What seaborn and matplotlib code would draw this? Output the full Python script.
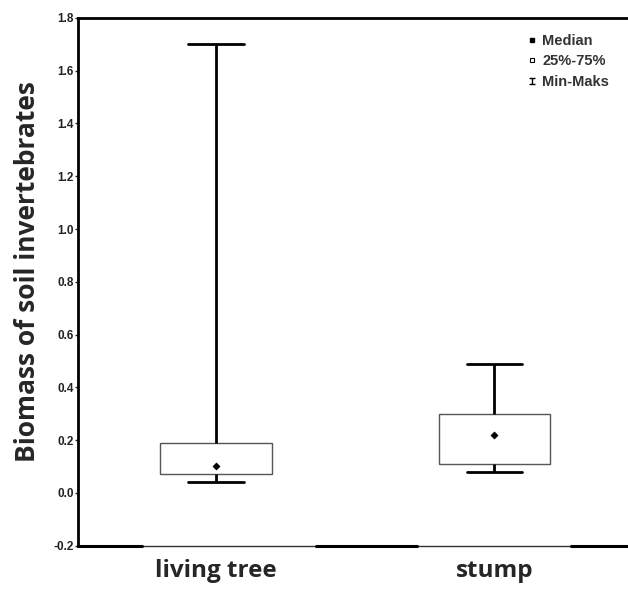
import numpy as np
import pandas as pd
import matplotlib
matplotlib.use("Agg")
import matplotlib.pyplot as plt
from matplotlib.lines import Line2D
from matplotlib.path import Path
import seaborn as sns

# Summary statistics per site type
categories = ["living tree", "stump"]
minimum = [0.04, 0.08]
q1 = [0.07, 0.11]
median = [0.10, 0.22]
q3 = [0.19, 0.30]
maximum = [1.70, 0.49]

# Five values per group reproduce the five-number summary exactly
rows = []
for cat, lo, a, m, b, hi in zip(categories, minimum, q1, median, q3, maximum):
    for v in (lo, a, m, b, hi):
        rows.append({"site": cat, "biomass": v})
df = pd.DataFrame(rows)
med_df = pd.DataFrame({"site": categories, "biomass": median})

sns.set_style("white")
plt.rcParams["font.family"] = ["Liberation Sans", "DejaVu Sans"]

fig = plt.figure(figsize=(6.28, 5.90), dpi=100)
ax = fig.add_axes([0.1242, 0.0754, 0.8758, 0.8941])

sns.boxplot(
    data=df, x="site", y="biomass", order=categories, ax=ax,
    whis=(0, 100), width=0.40, showfliers=False,
    boxprops=dict(facecolor="white", edgecolor="#555555", linewidth=1.0),
    whiskerprops=dict(color="black", linewidth=2.0),
    capprops=dict(color="black", linewidth=2.0),
    medianprops=dict(visible=False),
)
sns.scatterplot(data=med_df, x="site", y="biomass", ax=ax, marker="D",
                color="black", s=14, edgecolor="black", zorder=5, legend=False)

ax.set_xlim(-0.496, 1.48)
ax.set_ylim(-0.2, 1.8)
ax.set_yticks(np.arange(-0.2, 1.81, 0.2))
ax.set_yticklabels([f"{v:.1f}" for v in np.arange(-0.2, 1.81, 0.2)])
ax.tick_params(axis="y", left=True, length=2, width=1, pad=1,
               labelsize=8.5, labelcolor="#222222")
for lab in ax.get_yticklabels():
    lab.set_fontweight("bold")
ax.tick_params(axis="x", bottom=False, pad=6)
ax.set_xticks(range(len(categories)))
ax.set_xticklabels(categories, fontsize=17.5, fontweight="bold",
                   family=["Open Sans", "DejaVu Sans"])
ax.set_xlabel("")
ax.set_ylabel("Biomass of soil invertebrates", fontsize=19, fontweight="bold",
              family=["Open Sans", "DejaVu Sans"])
ax.yaxis.set_label_coords(-0.067, 0.52)

for side in ("left", "top"):
    ax.spines[side].set_linewidth(2.0)
    ax.spines[side].set_color("black")
ax.spines["right"].set_visible(False)
ax.spines["bottom"].set_linewidth(1.0)
ax.spines["bottom"].set_color("#333333")
# heavier stretches of the baseline between the categories
for x0, x1 in [(0.0, 0.116), (0.433, 0.616), (0.896, 1.0)]:
    ax.axhline(-0.2, xmin=x0, xmax=x1, color="black", linewidth=2.2,
               clip_on=False, zorder=6)

# Legend with a custom min-max glyph
ibeam = Path([(-1, 1), (1, 1), (0, 1), (0, -1), (-1, -1), (1, -1)],
             [Path.MOVETO, Path.LINETO, Path.MOVETO, Path.LINETO,
              Path.MOVETO, Path.LINETO])
handles = [
    Line2D([], [], marker="s", color="black", linestyle="none", markersize=3),
    Line2D([], [], marker="s", markerfacecolor="white", markeredgecolor="black",
           linestyle="none", markersize=3.5, markeredgewidth=0.8),
    Line2D([], [], marker=ibeam, color="black", linestyle="none", markersize=4,
           markeredgewidth=1.0),
]
ax.legend(handles, ["Median", "25%-75%", "Min-Maks"], loc="upper right",
          bbox_to_anchor=(0.99, 0.995), frameon=False,
          handlelength=0.6, handletextpad=0.4, labelspacing=0.45,
          prop={"size": 10.5, "weight": "bold"}, labelcolor="#333333")

fig.savefig("out.png", dpi=100, facecolor="white")
